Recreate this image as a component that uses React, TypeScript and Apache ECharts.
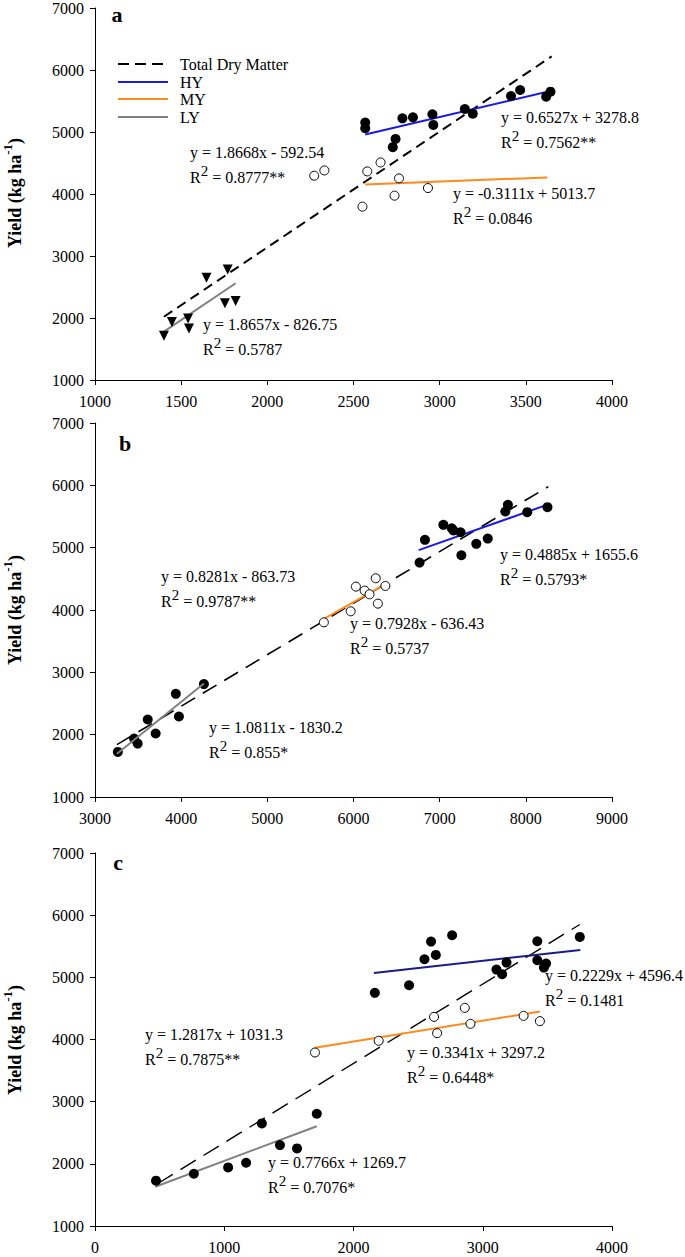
import React, { useEffect, useRef } from 'react';
import * as echarts from 'echarts';

const FONT = '"Liberation Serif", "Times New Roman", serif';

// ---------- axis ranges [min, max, interval] ----------
const xRangeA = [1000, 4000, 500];
const xRangeB = [3000, 9000, 1000];
const xRangeC = [0, 4000, 1000];
const yRange = [1000, 7000, 1000];

// ---------- panel a ----------
const aHY = [[2568, 5152], [2568, 5061], [2784, 5221], [2845, 5237], [2958, 5286], [2963, 5114], [2728, 4755], [2744, 4889], [3146, 5371], [3192, 5296], [3414, 5580], [3467, 5677], [3618, 5570], [3643, 5650]];
const aMY = [[2272, 4295], [2331, 4380], [2580, 4364], [2657, 4509], [2764, 4252], [2552, 3796], [2738, 3973], [2932, 4096]];
const aLY = [[1400, 1712], [1446, 1937], [1540, 1991], [1545, 1830], [1647, 2650], [1770, 2784], [1754, 2237], [1816, 2275]];
const aTDMfit = [[1400, 2020], [3650, 6220]];
const aHYfit = [[2568, 4960], [3643, 5660]];
const aMYfit = [[2568, 4155], [3625, 4268]];
const aLYfit = [[1400, 1780], [1816, 2560]];

// ---------- panel b ----------
const bHY = [[6767, 4761], [6829, 5125], [7043, 5366], [7140, 5312], [7160, 5275], [7242, 5248], [7252, 4878], [7425, 5061], [7558, 5146], [7762, 5580], [7792, 5687], [8016, 5570], [8251, 5650]];
const bMY = [[5656, 3802], [5967, 3979], [6028, 4375], [6130, 4311], [6186, 4252], [6258, 4509], [6283, 4102], [6370, 4386]];
const bLY = [[3265, 1723], [3454, 1937], [3495, 1857], [3612, 2243], [3704, 2018], [3938, 2655], [3974, 2291], [4264, 2811]];
const bTDMfit = [[3255, 1840], [8261, 5980]];
const bHYfit = [[6757, 4960], [8261, 5695]];
const bMYfit = [[5636, 3840], [6375, 4420]];
const bLYfit = [[3255, 1695], [4264, 2820]];

// ---------- panel c ----------
const cHY = [[2165, 4750], [2430, 4873], [2549, 5291], [2600, 5575], [2637, 5361], [2763, 5677], [3106, 5125], [3150, 5050], [3184, 5237], [3422, 5580], [3422, 5275], [3473, 5157], [3490, 5221], [3751, 5650]];
const cMY = [[1702, 3791], [2195, 3979], [2623, 4364], [2647, 4102], [2861, 4509], [2905, 4252], [3316, 4380], [3442, 4295]];
const cLY = [[472, 1729], [765, 1841], [1030, 1943], [1169, 2018], [1291, 2650], [1431, 2302], [1563, 2248], [1716, 2805]];
const cTDMfit = [[483, 1680], [3751, 5850]];
const cHYfit = [[2158, 5071], [3755, 5440]];
const cMYfit = [[1702, 3868], [3442, 4450]];
const cLYfit = [[466, 1632], [1716, 2605]];

// ---------- texts ----------
const panelLetters = ['a', 'b', 'c'];
const legendNames = ['Total Dry Matter', 'HY', 'MY', 'LY'];
const eqA = [
  ['y = 1.8668x - 592.54', '0.8777**'],
  ['y = 0.6527x + 3278.8', '0.7562**'],
  ['y = -0.3111x + 5013.7', '0.0846'],
  ['y = 1.8657x - 826.75', '0.5787'],
];
const eqB = [
  ['y = 0.8281x - 863.73', '0.9787**'],
  ['y = 0.4885x + 1655.6', '0.5793*'],
  ['y = 0.7928x - 636.43', '0.5737'],
  ['y = 1.0811x - 1830.2', '0.855*'],
];
const eqC = [
  ['y = 1.2817x + 1031.3', '0.7875**'],
  ['y = 0.2229x + 4596.4', '0.1481'],
  ['y = 0.3341x + 3297.2', '0.6448*'],
  ['y = 0.7766x + 1269.7', '0.7076*'],
];

const BLUE = '#1a1ae0';
const NAVY = '#1c1c86';
const ORANGE = '#ff8a1c';
const GRAY = '#808080';

const grids = [
  { left: 95, top: 6, width: 517, height: 374 },
  { left: 95, top: 423, width: 517, height: 374 },
  { left: 95, top: 853, width: 517, height: 373 },
];

const plain = (v: number) => String(v);

function xAxis(i: number, r: number[]) {
  return {
    type: 'value', gridIndex: i, min: r[0], max: r[1], interval: r[2],
    splitLine: { show: false },
    axisLine: { show: true, onZero: false, lineStyle: { color: '#000', width: 1 } },
    axisTick: { show: true, inside: false, length: 5, lineStyle: { color: '#000' } },
    axisLabel: { color: '#000', fontFamily: FONT, fontSize: 16, margin: 13, formatter: plain },
  };
}
function yAxis(i: number) {
  return {
    type: 'value', gridIndex: i, min: yRange[0], max: yRange[1], interval: yRange[2],
    splitLine: { show: false },
    axisLine: { show: true, onZero: false, lineStyle: { color: '#000', width: 1 } },
    axisTick: { show: true, inside: false, length: 5, lineStyle: { color: '#000' } },
    axisLabel: { color: '#000', fontFamily: FONT, fontSize: 16, margin: 11, formatter: plain },
  };
}

function fitLine(i: number, data: number[][], color: string, width: number, type: any, z = 2) {
  return {
    type: 'line', xAxisIndex: i, yAxisIndex: i, data, symbol: 'none', silent: true,
    lineStyle: { color, width, type }, z,
  };
}
function scatter(i: number, data: number[][], kind: 'filled' | 'open' | 'tri') {
  const base: any = { type: 'scatter', xAxisIndex: i, yAxisIndex: i, data, z: 5, silent: true };
  if (kind === 'filled') {
    base.symbol = 'circle'; base.symbolSize = 10; base.itemStyle = { color: '#000', opacity: 1 };
  } else if (kind === 'open') {
    base.symbol = 'circle'; base.symbolSize = 9;
    base.itemStyle = { color: '#fff', borderColor: '#000', borderWidth: 1, opacity: 1 };
  } else {
    base.symbol = 'triangle'; base.symbolSize = 10; base.symbolRotate = 180;
    base.itemStyle = { color: '#000', opacity: 1 };
  }
  return base;
}

function eqGroup(x: number, y: number, eq: string[]) {
  return {
    type: 'group', x, y,
    children: [
      { type: 'text', x: 0, y: 0, style: { text: eq[0], fill: '#000', font: `16px ${FONT}`, textAlign: 'left', textVerticalAlign: 'middle' } },
      {
        type: 'text', x: 0, y: 25,
        style: {
          text: `{r|R}{s|2}{r| = ${eq[1]}}`, fill: '#000', textAlign: 'left', textVerticalAlign: 'middle',
          rich: {
            r: { fontFamily: FONT, fontSize: 16, lineHeight: 27, fill: '#000' },
            s: { fontFamily: FONT, fontSize: 15, lineHeight: 15, verticalAlign: 'top', fill: '#000' },
          },
        },
      },
    ],
  };
}

function yName(cy: number) {
  return {
    type: 'text', x: 15, y: cy, rotation: Math.PI / 2,
    style: {
      text: '{a|Yield (kg ha}{s|-1}{a|)}', fill: '#000', textAlign: 'center', textVerticalAlign: 'middle',
      rich: {
        a: { fontFamily: FONT, fontSize: 18, fontWeight: 'bold', lineHeight: 28, fill: '#000' },
        s: { fontFamily: FONT, fontSize: 13, fontWeight: 'bold', lineHeight: 13, verticalAlign: 'top', fill: '#000' },
      },
    },
  };
}

function legendRow(y: number, name: string, color: string, dash: any) {
  return [
    { type: 'line', shape: { x1: 118, y1: y, x2: 168, y2: y }, style: { stroke: color, lineWidth: 2, lineDash: dash } },
    { type: 'text', x: 180, y, style: { text: name, fill: '#000', font: `16px ${FONT}`, textAlign: 'left', textVerticalAlign: 'middle' } },
  ];
}

export default function App() {
  const ref = useRef<HTMLDivElement>(null);
  useEffect(() => {
    if (!ref.current) return;
    const chart = echarts.init(ref.current, undefined, { renderer: 'svg' });
    const option: any = {
      animation: false,
      backgroundColor: '#fff',
      grid: grids,
      xAxis: [xAxis(0, xRangeA), xAxis(1, xRangeB), xAxis(2, xRangeC)],
      yAxis: [yAxis(0), yAxis(1), yAxis(2)],
      series: [
        // panel a
        fitLine(0, aTDMfit, '#000', 2, [10, 6]),
        fitLine(0, aHYfit, BLUE, 2, 'solid'),
        fitLine(0, aMYfit, ORANGE, 2, 'solid'),
        fitLine(0, aLYfit, GRAY, 2, 'solid'),
        scatter(0, aHY, 'filled'),
        scatter(0, aMY, 'open'),
        scatter(0, aLY, 'tri'),
        // panel b
        fitLine(1, bTDMfit, '#000', 1.6, [16, 9]),
        fitLine(1, bHYfit, BLUE, 2, 'solid'),
        fitLine(1, bMYfit, ORANGE, 2, 'solid'),
        fitLine(1, bLYfit, GRAY, 2, 'solid', 6),
        scatter(1, bHY, 'filled'),
        scatter(1, bMY, 'open'),
        scatter(1, bLY, 'filled'),
        // panel c
        fitLine(2, cTDMfit, '#000', 1.4, [18, 9]),
        fitLine(2, cHYfit, NAVY, 2, 'solid'),
        fitLine(2, cMYfit, ORANGE, 2, 'solid'),
        fitLine(2, cLYfit, GRAY, 2, 'solid'),
        scatter(2, cHY, 'filled'),
        scatter(2, cMY, 'open'),
        scatter(2, cLY, 'filled'),
      ],
      graphic: [
        { type: 'text', x: 117, y: 14, style: { text: panelLetters[0], fill: '#000', font: `bold 22px ${FONT}`, textAlign: 'center', textVerticalAlign: 'middle' } },
        { type: 'text', x: 125, y: 443, style: { text: panelLetters[1], fill: '#000', font: `bold 22px ${FONT}`, textAlign: 'center', textVerticalAlign: 'middle' } },
        { type: 'text', x: 118, y: 862, style: { text: panelLetters[2], fill: '#000', font: `bold 22px ${FONT}`, textAlign: 'center', textVerticalAlign: 'middle' } },
        ...legendRow(64, legendNames[0], '#000', [11, 6]),
        ...legendRow(82, legendNames[1], BLUE, null),
        ...legendRow(99, legendNames[2], ORANGE, null),
        ...legendRow(117, legendNames[3], GRAY, null),
        yName(193), yName(610), yName(1040),
        eqGroup(190, 152, eqA[0]),
        eqGroup(501, 117, eqA[1]),
        eqGroup(453, 193, eqA[2]),
        eqGroup(203, 324, eqA[3]),
        eqGroup(161, 576, eqB[0]),
        eqGroup(500, 554, eqB[1]),
        eqGroup(350, 623, eqB[2]),
        eqGroup(209, 727, eqB[3]),
        eqGroup(145, 1034, eqC[0]),
        eqGroup(545, 975, eqC[1]),
        eqGroup(407, 1052, eqC[2]),
        eqGroup(268, 1162, eqC[3]),
      ],
    };
    chart.setOption(option);
    return () => chart.dispose();
  }, []);
  return <div ref={ref} style={{ position: 'absolute', left: 0, top: 0, width: 685, height: 1257, background: '#fff' }} />;
}
